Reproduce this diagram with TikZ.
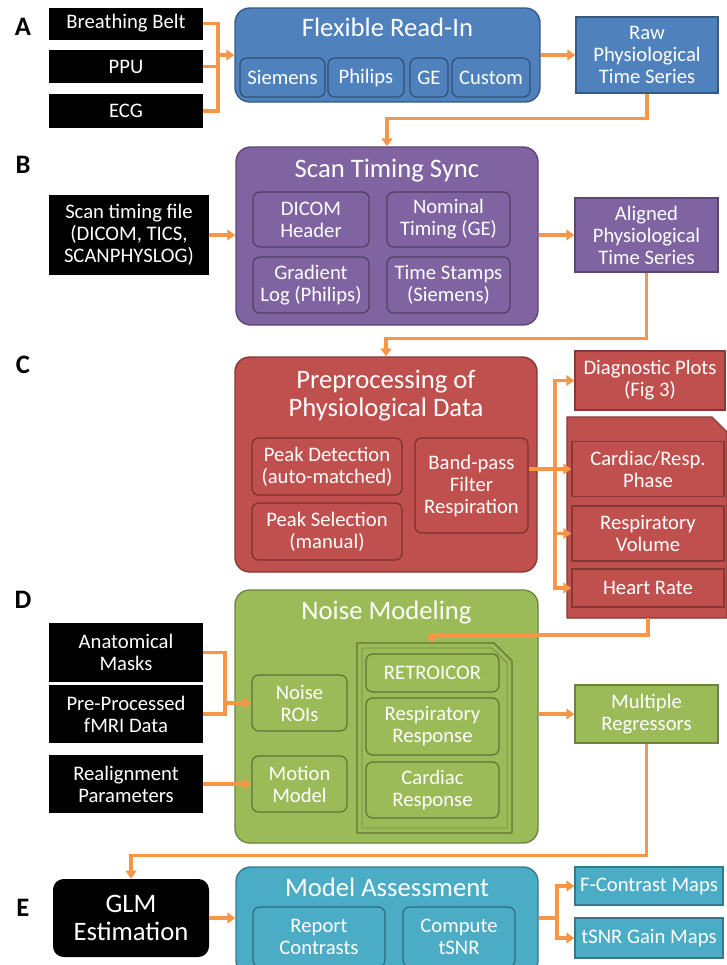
\documentclass[tikz,border=0pt]{standalone}
\usepackage{fontspec}
\setmainfont{Carlito}
\usetikzlibrary{arrows.meta,calc}
\definecolor{fblue}{HTML}{4F81BD}
\definecolor{fpurple}{HTML}{8064A2}
\definecolor{fred}{HTML}{C0504D}
\definecolor{fgreen}{HTML}{9BBB59}
\definecolor{faqua}{HTML}{4BACC6}
\definecolor{orng}{HTML}{F79646}
\newcommand{\bodyfont}{\fontsize{15.5}{16.5}\selectfont}
\newcommand{\ttlfont}{\fontsize{20}{21}\selectfont}
\newcommand{\tagfont}{\fontsize{20}{20}\selectfont\bfseries}
\tikzset{
  sz/.style 2 args={minimum width=#1*0.75pt, minimum height=#2*0.75pt},
  grp/.style={draw=#1!70!black, fill=#1, rounded corners=11pt, line width=1pt},
  sub/.style={draw=#1!62!black, fill=#1, rounded corners=5pt, line width=0.9pt,
              text=white, font=\bodyfont, align=center, inner sep=1pt},
  outbox/.style={draw=#1!70!black, fill=#1, line width=1pt,
                 text=white, font=\bodyfont, align=center, inner sep=1pt},
  blk/.style={fill=black, text=white, font=\bodyfont, align=center, inner sep=1pt},
  ttl/.style={text=white, font=\ttlfont, align=center, inner sep=0pt},
  tag/.style={font=\tagfont, inner sep=0pt},
  ln/.style={line width=2.6pt, color=orng},
  arr/.style={-{Triangle[length=6pt, width=8pt]}, line width=2.6pt, color=orng}}

\begin{document}
\begin{tikzpicture}[x=0.75pt, y=-0.75pt]
  \useasboundingbox (0,0) rectangle (727,965);
  \clip (0,0) rectangle (727,965);
  % A
  \node[tag] (tA) at (23,27) {A};
  \node[blk, sz={154}{32}] (belt) at (126,23.5) {Breathing Belt};
  \node[blk, sz={154}{33}] (ppu) at (126,66.5) {PPU};
  \node[blk, sz={154}{34}] (ecg) at (126,111) {ECG};
  \node[grp=fblue, sz={305}{94}] (flex) at (387.5,55) {};
  \node[ttl] (flexT) at (387.5,27) {Flexible Read-In};
  \node[sub=fblue, sz={85}{39}] (siem) at (282.5,77.5) {Siemens};
  \node[sub=fblue, sz={76}{39}] (phil) at (366,77.5) {Philips};
  \node[sub=fblue, sz={38}{39}] (ge) at (429,77.5) {GE};
  \node[sub=fblue, sz={78}{39}] (cust) at (491,77.5) {Custom};
  \node[outbox=fblue, sz={142}{76}] (raw) at (647,55) {Raw\\Physiological\\Time Series};
  \coordinate (jA) at (218,55);
  \draw[ln] (belt.east) -| (jA);
  \draw[ln] (ecg.east) -| (jA);
  \draw[ln] (ppu.east) -- (ppu.east -| jA);
  \draw[arr] (jA) -- (flex.west);
  \draw[arr] (flex.east) -- (raw.west);
  % B
  \node[tag] (tB) at (23,165) {B};
  \node[blk, sz={160}{80}] (stf) at (129,235) {Scan timing file\\(DICOM, TICS,\\SCANPHYSLOG)};
  \node[grp=fpurple, sz={302}{178}] (sync) at (387,236) {};
  \node[ttl] (syncT) at (387,171) {Scan Timing Sync};
  \node[sub=fpurple, sz={116}{55}] (dicom) at (311,219.5) {DICOM\\Header};
  \node[sub=fpurple, sz={123}{55}] (nomin) at (448.5,219.5) {Nominal\\Timing (GE)};
  \node[sub=fpurple, sz={116}{56}] (grad) at (311,285) {Gradient\\Log (Philips)};
  \node[sub=fpurple, sz={123}{56}] (tstamp) at (448.5,285) {Time Stamps\\(Siemens)};
  \node[outbox=fpurple, sz={143}{74}] (align) at (646.5,235) {Aligned\\Physiological\\Time Series};
  \draw[arr] (raw.south) -- ++(0,25) -| (sync.north);
  \draw[arr] (stf.east) -- (stf.east -| sync.west);
  \draw[arr] (sync.east |- align) -- (align.west);
  % C
  \node[tag] (tC) at (23,365) {C};
  \node[grp=fred, sz={302}{215}] (prep) at (386,464.5) {};
  \node[ttl] (prepT) at (386,396) {Preprocessing of\\Physiological Data};
  \node[sub=fred, sz={150}{57}] (pdet) at (327,466.5) {Peak Detection\\(auto-matched)};
  \node[sub=fred, sz={150}{57}] (psel) at (327,531.5) {Peak Selection\\(manual)};
  \node[sub=fred, sz={113}{95}] (bpf) at (471.5,485.5) {Band-pass\\Filter\\Respiration};
  \node[outbox=fred, sz={150}{59}] (diag) at (650,380.5) {Diagnostic Plots\\(Fig 3)};
  \draw[fill=fred, draw=fred!70!black, line width=1pt]
    (567,417) -- (712,417) -- (727,432) -- (727,618) -- (567,618) -- cycle;
  \coordinate (stk) at (648,618);
  \node[outbox=fred, sz={152}{55}] (phase) at (648,469) {Cardiac/Resp.\\Phase};
  \node[outbox=fred, sz={152}{55}] (rvol) at (648,533.5) {Respiratory\\Volume};
  \node[outbox=fred, sz={152}{38}] (hr) at (648,588) {Heart Rate};
  \draw[arr] (align.south) -- ++(0,66) -| (prep.north);
  \coordinate (jC) at (555,469);
  \draw[ln] (bpf.east |- jC) -- (jC);
  \draw[arr] (jC) |- (diag.west);
  \draw[arr] (jC) -- (phase.west);
  \draw[arr] (jC) |- (rvol.west);
  \draw[arr] (jC) |- (hr.west);
  % D
  \node[tag] (tD) at (23,600) {D};
  \node[grp=fgreen, sz={303}{253}] (noise) at (386.5,716.5) {};
  \node[ttl] (noiseT) at (386.5,613) {Noise Modeling};
  \node[blk, sz={154}{59}] (anat) at (126,652.5) {Anatomical\\Masks};
  \node[blk, sz={154}{58}] (fmri) at (126,714) {Pre-Processed\\fMRI Data};
  \node[blk, sz={154}{58}] (realn) at (126,784) {Realignment\\Parameters};
  \node[sub=fgreen, sz={95}{56}] (rois) at (299.5,703) {Noise\\ROIs};
  \node[sub=fgreen, sz={95}{56}] (motion) at (299.5,784) {Motion\\Model};
  \draw[fill=fgreen, draw=fgreen!62!black, line width=0.9pt]
    (357,643) -- (494,643) -- (512,661) -- (512,833) -- (357,833) -- cycle;
  \draw[draw=fgreen!75!black, line width=0.6pt]
    (362,648) -- (492,648) -- (507,663) -- (507,828) -- (362,828) -- cycle;
  \coordinate (ctr) at (432,643);
  \node[sub=fgreen, sz={133}{38}] (retro) at (432.5,673) {RETROICOR};
  \node[sub=fgreen, sz={133}{57}] (rresp) at (432.5,726.5) {Respiratory\\Response};
  \node[sub=fgreen, sz={133}{56}] (cresp) at (432.5,790) {Cardiac\\Response};
  \node[outbox=fgreen, sz={143}{58}] (regr) at (646.5,714) {Multiple\\Regressors};
  \draw[arr] (stk) -- ++(0,17) -| (ctr);
  \coordinate (jD) at (225,703);
  \draw[ln] (anat.east) -| (jD);
  \draw[ln] (fmri.east) -| (jD);
  \draw[arr] (jD) -- (rois.west);
  \draw[arr] (realn.east) -- (motion.west);
  \draw[arr] (noise.east |- regr) -- (regr.west);
  % E
  \node[tag] (tE) at (23,908) {E};
  \node[blk, rounded corners=8pt, font=\ttlfont, sz={156}{78}] (glm) at (131,918) {GLM\\Estimation};
  \node[grp=faqua, sz={302}{108}] (ma) at (387,921) {};
  \node[ttl] (maT) at (387,887) {Model Assessment};
  \node[sub=faqua, sz={132}{60}] (rep) at (319,937) {Report\\Contrasts};
  \node[sub=faqua, sz={112}{60}] (ctsnr) at (459,937) {Compute\\tSNR};
  \node[outbox=faqua, sz={148}{38}] (fcon) at (649,886) {F-Contrast Maps};
  \node[outbox=faqua, sz={148}{40}] (tgain) at (649,938) {tSNR Gain Maps};
  \draw[arr] (regr.south) -- ++(0,112) -| (glm.north);
  \draw[arr] (glm.east) -- (glm.east -| ma.west);
  \coordinate (jE) at (557,918);
  \draw[ln] (ma.east |- jE) -- (jE);
  \draw[arr] (jE) |- (fcon.west);
  \draw[arr] (jE) |- (tgain.west);
\end{tikzpicture}
\end{document}
